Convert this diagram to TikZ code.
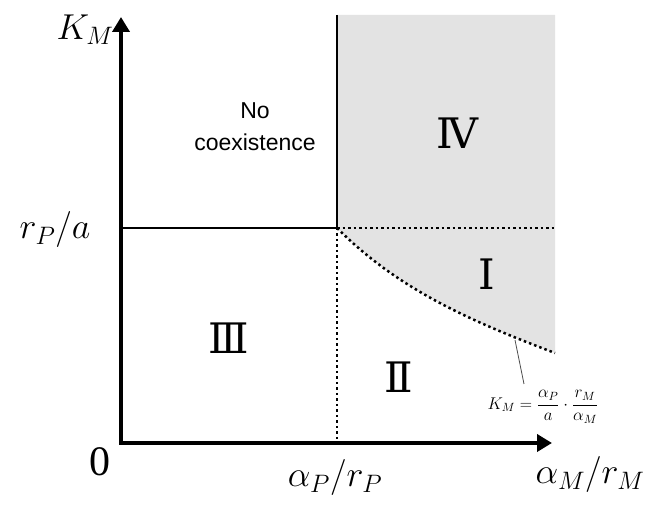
\RequirePackage{fix-cm}
\documentclass[tikz,border=0pt]{standalone}
\usepackage{amsmath}
\usepackage{fontspec}
\setmainfont{Liberation Serif}
\newfontfamily\numfont{DejaVu Serif}
\newfontfamily\labfont{Liberation Sans}
\usetikzlibrary{arrows.meta}

\begin{document}
\begin{tikzpicture}[
        x=1pt, y=1pt,
        axis/.style={line width=4pt, line join=miter,
                     {Triangle[length=15pt, width=17pt]}-{Triangle[length=15pt, width=17pt]}},
        border/.style={line width=2pt},
        bound/.style={line width=2.5pt, dash pattern=on 2.5pt off 3pt},
        axlabel/.style={inner sep=0pt, font=\fontsize{36}{40}\selectfont},
        region/.style={inner sep=0pt, font=\fontsize{42}{44}\numfont},
    ]
        \useasboundingbox (0,0) rectangle (653,508);
        % corners of the diagram
        \coordinate (O) at (121,65);
        \coordinate (ytip) at (121,491);
        \coordinate (xtip) at (552,65);
        \coordinate (C) at (337,280);
        \coordinate (Ctop) at (337,493);
        \coordinate (Cbot) at (337,65);
        \coordinate (right) at (555,280);
        \coordinate (rtop) at (555,493);
        \coordinate (cend) at (555,155);
        \coordinate (lead) at (515,168);
        \coordinate (lend) at (524,124);

        % region I + IV
        \fill[black!11] (Ctop) -- (rtop) -- (cend)
            .. controls (465,189) and (397,220) .. (C) -- cycle;

        \draw[border] (Ctop) -- (C) -- (ytip |- C);
        \draw[bound] (C) -- (right);
        \draw[bound] (C) -- (Cbot);
        \draw[bound] (C) .. controls (397,220) and (465,189) .. (cend);
        \draw[axis] (ytip) -- (O) -- (xtip);

        % labels
        \node[axlabel] (km) at (85,478) {$K_M$};
        \node[inner sep=0pt, font=\fontsize{42}{44}\selectfont] (zero) at (100,46) {0};
        \node[axlabel] (rpa) at (55,278) {$r_P/a$};
        \node[axlabel] (apr) at (335,30) {$\alpha_P/r_P$};
        \node[axlabel] (amr) at (590,33) {$\alpha_M/r_M$};
        \node[align=center, font=\fontsize{23}{32}\labfont] (nocx) at (255,381)
            {No\\coexistence};

        \node[region] (r1) at (487,234) {Ⅰ};
        \node[region] (r2) at (399,131) {Ⅱ};
        \node[region] (r3) at (229,170) {Ⅲ};
        \node[region] (r4) at (457,375) {Ⅳ};

        \node[inner sep=0pt, font=\fontsize{17}{20}\selectfont] (kform) at (543,101)
            {$K_M=\dfrac{\alpha_P}{a}\cdot\dfrac{r_M}{\alpha_M}$};
        \draw[line width=0.8pt, black!70] (lead) -- (lend);
    \end{tikzpicture}
\end{document}
